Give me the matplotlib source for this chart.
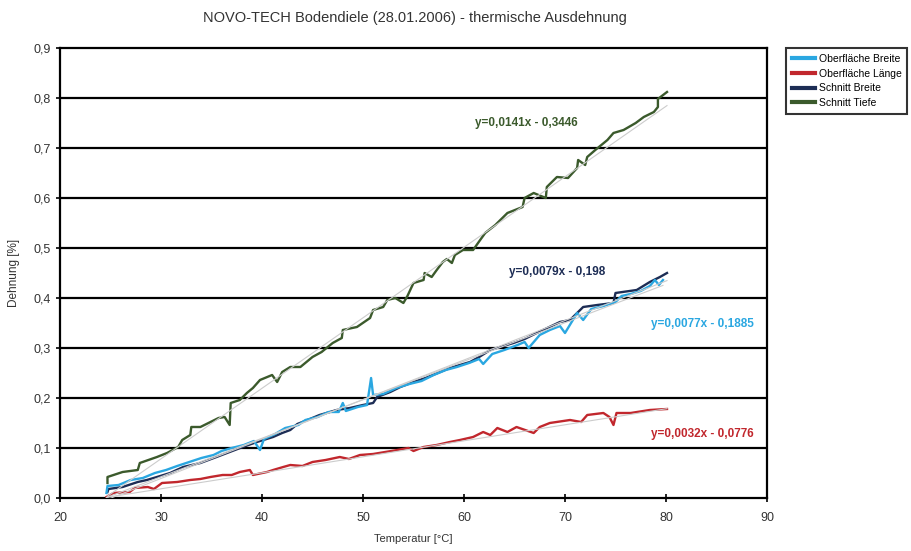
import matplotlib.pyplot as plt
from matplotlib.lines import Line2D

plt.rcParams['font.family'] = ['Liberation Sans', 'DejaVu Sans']

# Schnitt Tiefe (gruen)
tiefe_x = [24.7, 24.7, 26.2, 27.7, 27.9, 29.6, 30.6, 31.7, 32.1, 32.9, 33.0, 33.9, 34.9, 35.7,
           36.3, 36.8, 36.9, 37.8, 38.5, 39.1, 39.8, 41.0, 41.5, 42.0, 42.8, 43.8, 45.0, 45.9,
           47.0, 47.9, 48.0, 49.4, 50.7, 51.0, 52.0, 52.4, 53.2, 54.0, 54.4, 55.0, 56.0, 56.1,
           56.8, 57.3, 57.9, 58.3, 58.8, 59.1, 59.9, 60.9, 61.6, 62.1, 63.1, 64.3, 65.8, 66.0,
           66.9, 68.1, 68.2, 69.2, 70.3, 71.2, 71.3, 72.0, 72.2, 73.0, 74.2, 74.8, 75.8, 77.0,
           77.8, 78.8, 79.2, 79.2, 80.1]
tiefe_y = [0.030, 0.042, 0.052, 0.056, 0.070, 0.082, 0.090, 0.102, 0.116, 0.126, 0.142, 0.142,
           0.152, 0.160, 0.162, 0.146, 0.190, 0.196, 0.210, 0.220, 0.236, 0.246, 0.232, 0.252,
           0.262, 0.262, 0.282, 0.292, 0.310, 0.320, 0.336, 0.342, 0.360, 0.376, 0.382, 0.396,
           0.400, 0.390, 0.404, 0.430, 0.436, 0.450, 0.442, 0.456, 0.472, 0.478, 0.470, 0.486,
           0.496, 0.496, 0.516, 0.530, 0.546, 0.570, 0.582, 0.600, 0.610, 0.600, 0.622, 0.642,
           0.640, 0.660, 0.676, 0.666, 0.682, 0.696, 0.716, 0.730, 0.736, 0.750, 0.762, 0.772,
           0.782, 0.798, 0.812]

# Schnitt Breite (dunkelblau)
sbreite_x = [24.7, 24.8, 26.2, 27.7, 28.6, 29.6, 30.9, 32.2, 33.9, 35.5, 36.8, 38.1, 39.5, 41.1,
             42.0, 42.8, 43.5, 44.5, 45.7, 47.4, 48.7, 50.0, 51.0, 51.4, 52.7, 53.7, 55.0, 56.2,
             57.4, 58.6, 60.6, 61.5, 62.6, 64.9, 66.0, 67.2, 69.5, 70.5, 71.8, 73.2, 74.8, 75.0,
             77.1, 78.4, 79.4, 80.1]
sbreite_y = [0.012, 0.018, 0.022, 0.032, 0.036, 0.042, 0.050, 0.062, 0.070, 0.082, 0.092, 0.102,
             0.112, 0.122, 0.130, 0.136, 0.148, 0.156, 0.166, 0.176, 0.180, 0.186, 0.190, 0.202,
             0.212, 0.222, 0.232, 0.240, 0.250, 0.260, 0.272, 0.282, 0.296, 0.310, 0.318, 0.330,
             0.352, 0.356, 0.382, 0.386, 0.390, 0.410, 0.416, 0.432, 0.442, 0.450]

# Oberflaeche Breite (hellblau)
obreite_x = [24.6, 24.7, 25.8, 27.0, 28.2, 29.4, 30.5, 31.6, 32.8, 34.0, 35.2, 36.0, 37.0, 38.2,
             39.2, 39.8, 40.2, 41.3, 42.3, 43.6, 44.3, 45.5, 46.6, 47.6, 48.0, 48.3, 49.5, 50.4,
             50.8, 51.0, 52.0, 53.3, 54.6, 55.8, 57.0, 58.2, 59.3, 60.5, 61.5, 61.9, 62.8, 64.0,
             65.3, 66.0, 66.4, 67.5, 68.5, 69.5, 70.0, 70.6, 71.2, 71.8, 72.6, 73.8, 75.0, 75.6,
             76.5, 77.5, 78.4, 78.9, 79.3, 79.7]
obreite_y = [0.010, 0.024, 0.026, 0.036, 0.040, 0.050, 0.056, 0.064, 0.072, 0.080, 0.086, 0.094,
             0.100, 0.106, 0.114, 0.096, 0.118, 0.128, 0.140, 0.146, 0.156, 0.162, 0.172, 0.172,
             0.190, 0.174, 0.182, 0.186, 0.240, 0.206, 0.208, 0.220, 0.228, 0.234, 0.246, 0.256,
             0.262, 0.270, 0.278, 0.268, 0.288, 0.296, 0.306, 0.312, 0.300, 0.326, 0.336, 0.344,
             0.330, 0.350, 0.370, 0.356, 0.378, 0.384, 0.392, 0.404, 0.408, 0.414, 0.424, 0.436,
             0.426, 0.436]

# Oberflaeche Laenge (rot)
laenge_x = [24.6, 25.3, 26.9, 27.4, 28.7, 29.3, 30.1, 31.6, 32.9, 33.9, 34.9, 36.1, 37.0, 37.8,
            38.8, 39.1, 40.5, 41.1, 42.1, 42.8, 44.0, 45.0, 46.3, 47.7, 48.6, 49.7, 51.0, 52.2,
            53.4, 54.5, 55.0, 56.0, 57.3, 58.6, 59.6, 60.9, 61.9, 62.6, 63.3, 64.3, 65.2, 66.9,
            67.5, 68.5, 70.5, 71.6, 72.2, 73.8, 74.4, 74.8, 75.1, 76.5, 78.4, 80.1]
laenge_y = [0.002, 0.010, 0.012, 0.020, 0.022, 0.018, 0.030, 0.032, 0.036, 0.038, 0.042, 0.046,
            0.046, 0.052, 0.056, 0.046, 0.052, 0.056, 0.062, 0.066, 0.064, 0.072, 0.076, 0.082,
            0.078, 0.086, 0.088, 0.092, 0.096, 0.100, 0.094, 0.102, 0.106, 0.112, 0.116, 0.122,
            0.132, 0.126, 0.140, 0.132, 0.142, 0.130, 0.142, 0.150, 0.156, 0.152, 0.166, 0.170,
            0.162, 0.146, 0.170, 0.170, 0.176, 0.178]

# Trendlinien (Steigung, Achsenabschnitt) aus den Gleichungen im Diagramm
trend_tiefe = [0.0141, -0.3446]
trend_sbreite = [0.0079, -0.198]
trend_obreite = [0.0077, -0.1885]
trend_laenge = [0.0032, -0.0776]

c_obreite = '#2aa7e1'
c_laenge = '#c1272d'
c_sbreite = '#1d2d55'
c_tiefe = '#3b5a2c'

y_ticks = [0.0, 0.1, 0.2, 0.3, 0.4, 0.5, 0.6, 0.7, 0.8, 0.9]
y_labels = ['0,0', '0,1', '0,2', '0,3', '0,4', '0,5', '0,6', '0,7', '0,8', '0,9']
x_ticks = [20, 30, 40, 50, 60, 70, 80, 90]

fig = plt.figure(figsize=(9.12, 5.51), dpi=100)
ax = fig.add_axes([0.0658, 0.0962, 0.7752, 0.8167])

for yy in y_ticks[1:-1]:
    ax.axhline(yy, color='black', lw=1.6, zorder=1)

series = [
    (obreite_x, obreite_y, trend_obreite, c_obreite),
    (laenge_x, laenge_y, trend_laenge, c_laenge),
    (sbreite_x, sbreite_y, trend_sbreite, c_sbreite),
    (tiefe_x, tiefe_y, trend_tiefe, c_tiefe),
]
# Reihenfolge beim Zeichnen: hellblau ueber dunkelblau
for xs, ys, tr, col in [series[3], series[1], series[2], series[0]]:
    ax.plot(xs, ys, color=col, lw=1.7, zorder=3)
for xs, ys, tr, col in series:
    x0, x1 = xs[0], xs[-1]
    ax.plot([x0, x1], [tr[0] * x0 + tr[1], tr[0] * x1 + tr[1]], color='#cccccc', lw=0.8, zorder=4)

ax.text(66.2, 0.75, 'y=0,0141x - 0,3446', color=c_tiefe, fontsize=8.5, fontweight='bold',
        ha='center', va='center')
ax.text(69.2, 0.452, 'y=0,0079x - 0,198', color=c_sbreite, fontsize=8.5, fontweight='bold',
        ha='center', va='center')
ax.text(83.6, 0.348, 'y=0,0077x - 0,1885', color=c_obreite, fontsize=8.5, fontweight='bold',
        ha='center', va='center')
ax.text(83.6, 0.128, 'y=0,0032x - 0,0776', color=c_laenge, fontsize=8.5, fontweight='bold',
        ha='center', va='center')

ax.set_xlim(20, 90)
ax.set_ylim(0, 0.9)
ax.set_xticks(x_ticks)
ax.set_yticks(y_ticks)
ax.set_yticklabels(y_labels)
ax.tick_params(direction='inout', length=6, width=1.2, labelsize=9, labelcolor='#333333')
ax.tick_params(axis='x', pad=7)
for sp in ax.spines.values():
    sp.set_linewidth(1.6)

ax.set_xlabel('Temperatur [°C]', fontsize=8, color='#333333', labelpad=7)
ax.set_ylabel('Dehnung [%]', fontsize=8.5, color='#333333', labelpad=10)
fig.text(0.455, 0.968, 'NOVO-TECH Bodendiele (28.01.2006) - thermische Ausdehnung',
         ha='center', va='center', fontsize=10.5, color='#333333')

handles = [Line2D([], [], color=c, lw=3) for c in [c_obreite, c_laenge, c_sbreite, c_tiefe]]
labels = ['Oberfläche Breite', 'Oberfläche Länge', 'Schnitt Breite', 'Schnitt Tiefe']
leg = fig.legend(handles, labels, loc='upper left', bbox_to_anchor=(0.856, 0.922),
                 fontsize=7.5, frameon=True, fancybox=False, handlelength=2.2,
                 handletextpad=0.4, borderpad=0.55, labelspacing=0.45)
leg.get_frame().set_edgecolor('black')
leg.get_frame().set_linewidth(1.5)

fig.savefig('out.png', dpi=100)
